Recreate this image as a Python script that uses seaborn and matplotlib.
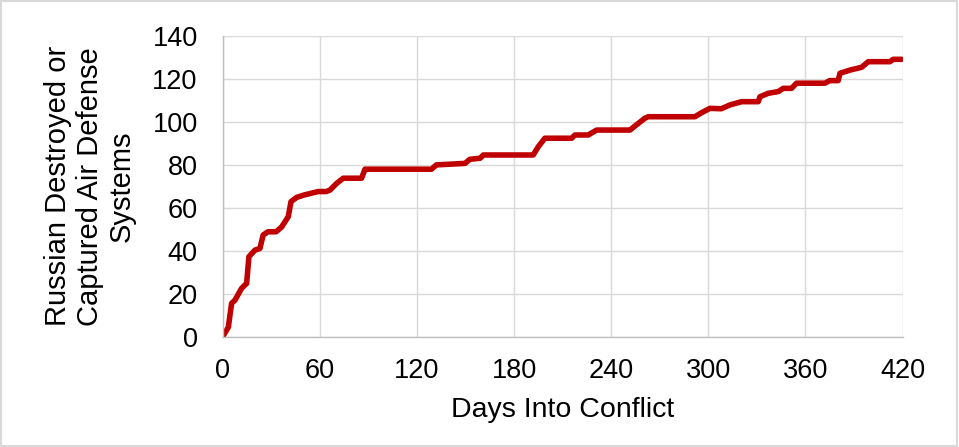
import pandas as pd
import seaborn as sns
import matplotlib.pyplot as plt

# Cumulative count
days = [0, 1, 3.5, 5.5, 7.6, 11.7, 14.8, 16.2, 20, 23, 25, 28, 33, 36.4, 40.5, 42.2, 45.7,
        50.8, 59, 64, 66.3, 70.4, 74.5, 85.8, 87.9, 129, 132, 149.7, 152.7, 159, 161, 191.8,
        195, 199, 215.6, 217.6, 225.8, 231, 251.6, 254.7, 260.8, 262.9, 291.7, 295.9, 301,
        308, 313.4, 320.6, 330.8, 331.9, 337, 343.2, 346.3, 351.4, 354.5, 372, 375, 380.2,
        381.3, 387.5, 394.7, 398.8, 412.2, 414.2, 419.4]
systems = [0, 1.3, 4.4, 15.5, 17, 22.5, 24.8, 37.2, 40.3, 41, 47.3, 48.8, 48.8, 51, 55.8, 62.8,
           64.8, 66, 67.5, 67.5, 68.2, 71.3, 73.7, 73.7, 77.9, 77.9, 79.9, 80.6, 82.5, 83, 84.5,
           84.5, 88.4, 92.3, 92.3, 93.8, 93.8, 96.1, 96.1, 98, 101.6, 102.3, 102.3, 104.2, 106.2,
           106, 107.8, 109.3, 109.3, 111.6, 113.2, 114, 115.5, 115.5, 117.9, 117.9, 119.1, 119.1,
           122.5, 124, 125.3, 127.9, 127.9, 129, 129]

df = pd.DataFrame({'day': days, 'systems': systems})

sns.set_theme(style='white')
plt.rcParams['font.family'] = ['Liberation Sans', 'DejaVu Sans']

fig = plt.figure(figsize=(9.59, 4.47), dpi=100)
ax = fig.add_axes([0.2322, 0.2468, 0.7090, 0.6734])

sns.lineplot(data=df, x='day', y='systems', ax=ax, color='#C00000', linewidth=4.0,
             solid_capstyle='round', solid_joinstyle='round')

ax.set_xlim(0, 420)
ax.set_ylim(0, 140)
ax.set_xticks(range(0, 421, 60))
ax.set_yticks(range(0, 141, 20))
ax.grid(True, color='#d9d9d9', linewidth=1.0)
ax.set_axisbelow(True)
for side in ['top', 'right']:
    ax.spines[side].set_visible(False)
for side in ['left', 'bottom']:
    ax.spines[side].set_color('#bfbfbf')
    ax.spines[side].set_linewidth(1.0)
ax.tick_params(axis='both', labelsize=19.5, colors='black', length=0)
ax.tick_params(axis='x', pad=15)
ax.tick_params(axis='y', pad=18)

ax.set_xlabel('Days Into Conflict', fontsize=20.5, color='black', labelpad=10)
ax.set_ylabel('Russian Destroyed or\nCaptured Air Defense\nSystems', fontsize=21,
              color='black', labelpad=12, linespacing=1.18)

# light border round the whole figure
fig.patches.append(plt.Rectangle((0.001, 0.002), 0.997, 0.995, transform=fig.transFigure,
                                 fill=False, edgecolor='#d9d9d9', linewidth=1.5))

plt.savefig('out.png', dpi=100)
